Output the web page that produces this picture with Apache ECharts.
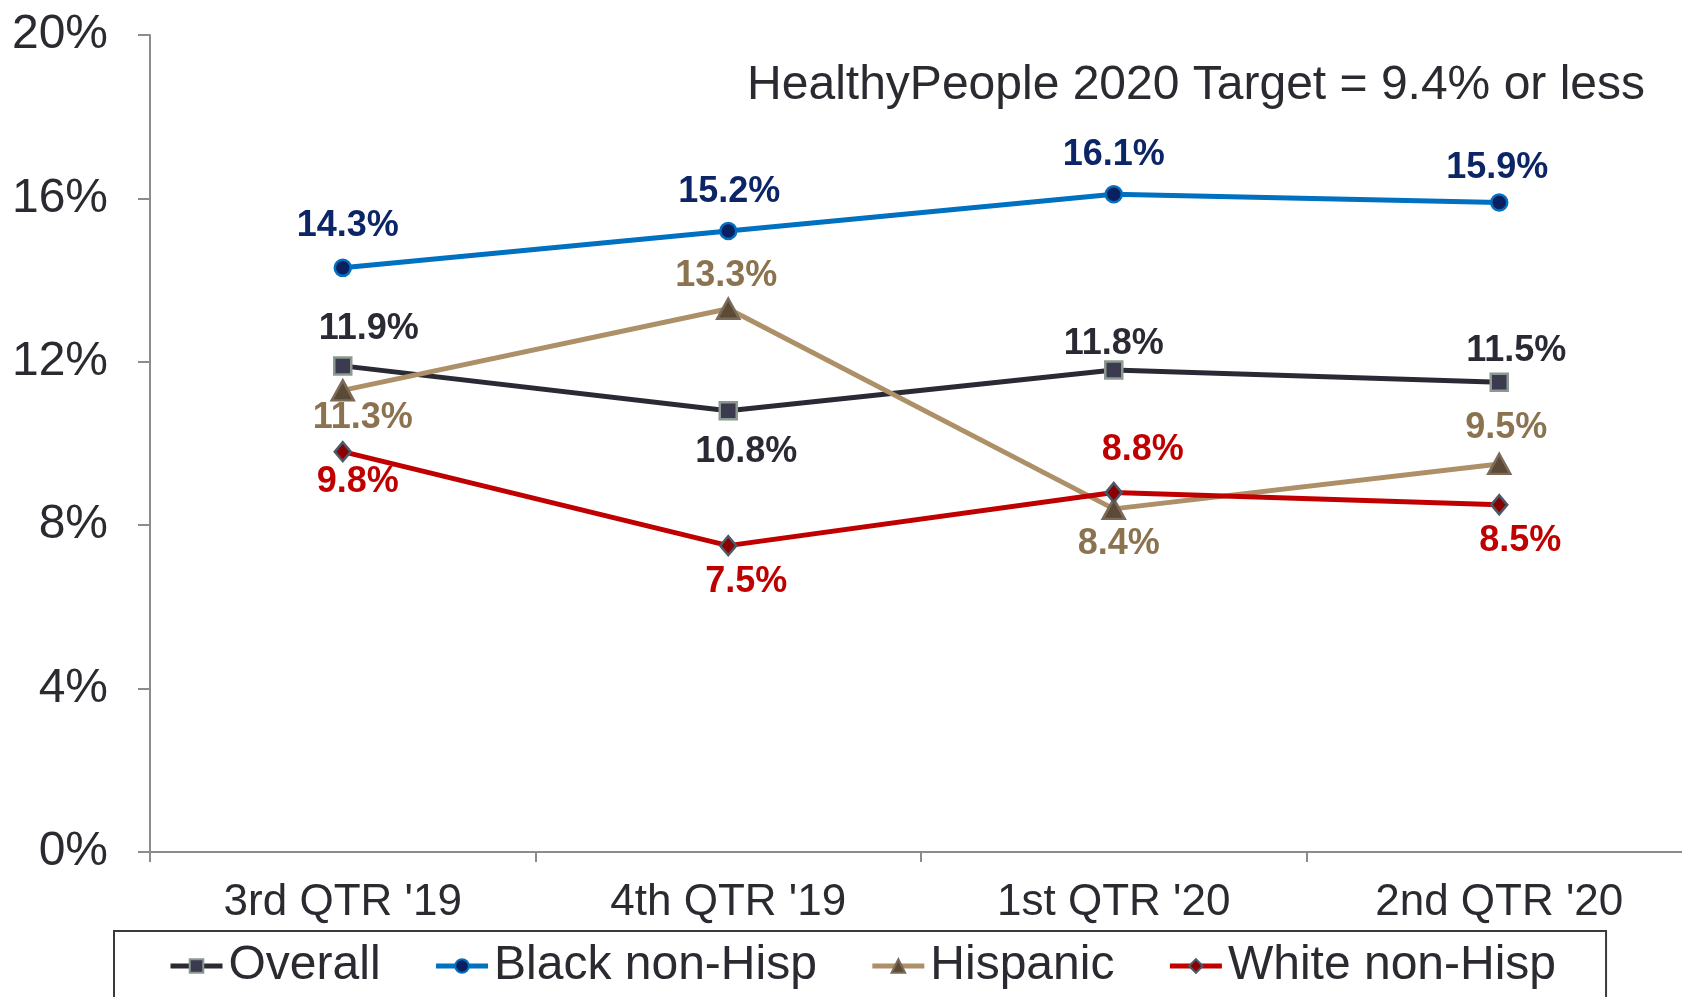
<!DOCTYPE html>
<html>
<head>
<meta charset="utf-8">
<script src="https://cdn.jsdelivr.net/npm/echarts@6/dist/echarts.min.js"></script>
<style>
  html, body { margin: 0; padding: 0; background: #fff; }
  #chart { width: 1682px; height: 997px; }
</style>
</head>
<body>
<div id="chart"></div>
<script>
// data
const quarters = ["3rd QTR '19", "4th QTR '19", "1st QTR '20", "2nd QTR '20"]
const overall = [11.9, 10.8, 11.8, 11.5]
const blackNonHisp = [14.3, 15.2, 16.1, 15.9]
const hispanic = [11.3, 13.3, 8.4, 9.5]
const whiteNonHisp = [9.8, 7.5, 8.8, 8.5]
const yTicks = [0, 4, 8, 12, 16, 20]

// where each value label sits relative to its point (px)
const overallLabelOffsets = [[26, -37], [18, 41], [0, -26], [17, -31]]
const blackLabelOffsets = [[5, -42], [1, -39], [0, -39], [-2, -34]]
const hispanicLabelOffsets = [[20, 28], [-2, -33], [5, 35], [7, -36]]
const whiteLabelOffsets = [[15, 30], [18, 36], [29, -42], [21, 36]]

const FONT = '"Liberation Sans", Arial, sans-serif'

const withLabels = (values, offsets) =>
  values.map((v, i) => ({ value: v, label: { offset: offsets[i] } }))

const makeSeries = (name, values, offsets, cfg) => ({
  name: name,
  type: 'line',
  data: withLabels(values, offsets),
  symbol: cfg.symbol,
  symbolSize: cfg.symbolSize,
  lineStyle: { color: cfg.line, width: 5 },
  itemStyle: { color: cfg.fill, borderColor: cfg.border, borderWidth: 2.5 },
  label: {
    show: true,
    position: 'inside',
    formatter: p => p.value.toFixed(1) + '%',
    color: cfg.text,
    fontFamily: FONT,
    fontWeight: 'bold',
    fontSize: 36,
    textBorderWidth: 0
  },
  emphasis: { disabled: true },
  animation: false
})

const chart = echarts.init(document.getElementById('chart'))
const option = {
  animation: false,
  title: {
    text: 'HealthyPeople 2020 Target = 9.4% or less',
    right: 32,
    top: 57,
    textStyle: { fontFamily: FONT, fontSize: 48, fontWeight: 'normal', color: '#2a2a30' }
  },
  grid: { left: 150, right: -10, top: 35, bottom: 145, outerBoundsMode: 'none', containLabel: false },
  legend: {
    left: 114,
    top: 931,
    padding: [11, 50, 40, 54],
    borderColor: '#3a3a3a',
    borderWidth: 2,
    itemWidth: 52,
    itemHeight: 17,
    itemGap: 53,
    lineStyle: { width: 5 },
    textStyle: { fontFamily: FONT, fontSize: 48, color: '#2a2a30', padding: [0, 0, 0, 1] },
    data: ['Overall', 'Black non-Hisp', 'Hispanic', 'White non-Hisp']
  },
  xAxis: {
    type: 'category',
    data: quarters,
    boundaryGap: true,
    axisLine: { lineStyle: { color: '#8c8c8c', width: 2 } },
    axisTick: { show: true, length: 10, lineStyle: { color: '#8c8c8c', width: 2 } },
    axisLabel: { fontFamily: FONT, fontSize: 44, color: '#2a2a30', margin: 29 },
    splitLine: { show: false }
  },
  yAxis: {
    type: 'value',
    min: yTicks[0],
    max: yTicks[yTicks.length - 1],
    interval: 4,
    axisLine: { show: true, lineStyle: { color: '#8c8c8c', width: 2 } },
    axisTick: { show: true, length: 12, lineStyle: { color: '#8c8c8c', width: 2 } },
    axisLabel: { fontFamily: FONT, fontSize: 48, color: '#2a2a30', margin: 42, formatter: '{value}%' },
    splitLine: { show: false }
  },
  series: [
    makeSeries('Overall', overall, overallLabelOffsets,
      { symbol: 'rect', symbolSize: 17, line: '#2a2a35', fill: '#3b3a4e', border: '#8a9a90', text: '#2a2a35' }),
    makeSeries('Black non-Hisp', blackNonHisp, blackLabelOffsets,
      { symbol: 'circle', symbolSize: 16, line: '#0070c0', fill: '#0b2060', border: '#0070c0', text: '#0b2566' }),
    makeSeries('Hispanic', hispanic, hispanicLabelOffsets,
      { symbol: 'triangle', symbolSize: [22, 20], line: '#ad9068', fill: '#5a4a36', border: '#7a6a58', text: '#8b7350' }),
    makeSeries('White non-Hisp', whiteNonHisp, whiteLabelOffsets,
      { symbol: 'diamond', symbolSize: [16, 19], line: '#c00000', fill: '#8b0000', border: '#4a5a6a', text: '#c00000' })
  ]
}
chart.setOption(option)

window.addEventListener('resize', () => {
  chart.resize()
})
</script>
</body>
</html>
